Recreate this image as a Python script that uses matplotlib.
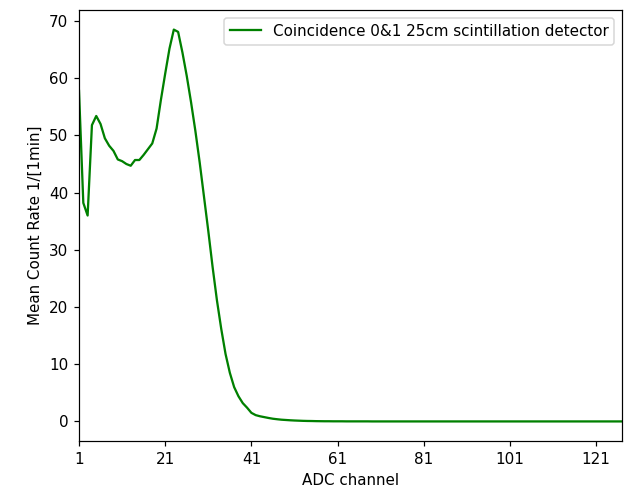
import matplotlib
matplotlib.use("Agg")
import matplotlib.pyplot as plt

# ADC channel spectrum
channels = list(range(1, 128))
rate = [
    57.8, 38.2, 36.0, 51.8, 53.4, 52.0, 49.5, 48.2, 47.3, 45.8,
    45.5, 45.0, 44.7, 45.7, 45.7, 46.6, 47.6, 48.6, 51.2, 56.2,
    60.8, 65.2, 68.5, 68.1, 64.5, 60.4, 55.8, 50.8, 45.3, 39.3,
    33.3, 27.0, 21.2, 16.2, 11.8, 8.5, 6.0, 4.4, 3.2, 2.4,
    1.5, 1.1, 0.9, 0.75, 0.6, 0.47, 0.38, 0.3, 0.25, 0.2,
    0.16, 0.13, 0.1, 0.08, 0.07, 0.05, 0.04, 0.03, 0.03, 0.02,
    0.02, 0.02, 0.01, 0.01, 0.01, 0.01, 0.01, 0.01, 0.0, 0.0,
    0.0, 0.0, 0.0, 0.0, 0.0, 0.0, 0.0, 0.0, 0.0, 0.0,
    0.0, 0.0, 0.0, 0.0, 0.0, 0.0, 0.0, 0.0, 0.0, 0.0,
    0.0, 0.0, 0.0, 0.0, 0.0, 0.0, 0.0, 0.0, 0.0, 0.0,
    0.0, 0.0, 0.0, 0.0, 0.0, 0.0, 0.0, 0.0, 0.0, 0.0,
    0.0, 0.0, 0.0, 0.0, 0.0, 0.0, 0.0, 0.0, 0.0, 0.0,
    0.0, 0.0, 0.0, 0.0, 0.0, 0.0, 0.0,
]
xticks = [1, 21, 41, 61, 81, 101, 121]
label = "Coincidence 0&1 25cm scintillation detector"

dpi = 109
fig, ax = plt.subplots(figsize=(629 / dpi, 491 / dpi), dpi=dpi)
fig.subplots_adjust(left=0.1256, right=0.9889, top=0.9796, bottom=0.1018)

ax.plot(channels, rate, color="green", label=label)
ax.set_xlim(channels[0], channels[-1])
ax.set_xticks(xticks)
ax.set_xlabel("ADC channel")
ax.set_ylabel("Mean Count Rate 1/[1min]")
ax.legend(loc="upper right")

fig.savefig("out.png", dpi=dpi)
